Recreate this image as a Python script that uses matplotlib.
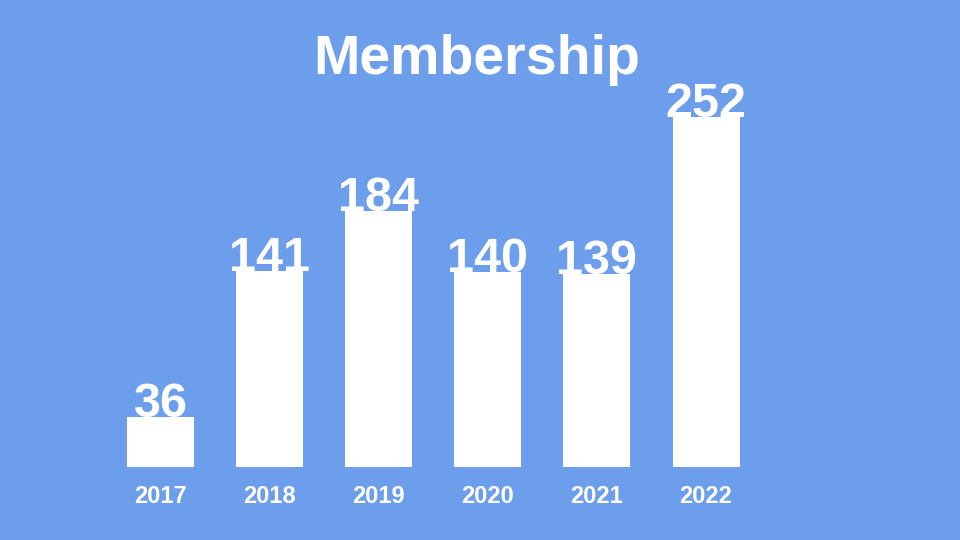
import matplotlib
matplotlib.use("Agg")
import matplotlib.pyplot as plt

years = ["2017", "2018", "2019", "2020", "2021", "2022"]
members = [36, 141, 184, 140, 139, 252]
title = "Membership"

BG = "#6d9eeb"
fig = plt.figure(figsize=(9.6, 5.4), dpi=100, facecolor=BG)
ax = fig.add_axes([0, 0.1357, 1, 0.8643])
ax.set_facecolor(BG)
ax.set_xlim(-1.471, 7.328)
ax.set_ylim(0, 336)
ax.axis("off")

xs = list(range(len(years)))
ax.bar(xs, members, width=0.614, color="white", edgecolor="none")

for x, v, yr in zip(xs, members, years):
    ax.text(x, v, str(v), ha="center", va="baseline", color="white",
            fontsize=35, fontweight="bold", family="Liberation Sans")
    ax.annotate(yr, xy=(x, 0), xytext=(0, -30), textcoords="offset pixels",
                ha="center", va="center", color="white", fontsize=17,
                fontweight="bold", family="Liberation Sans",
                annotation_clip=False)

fig.text(0.497, 1 - 74 / 540, title, ha="center", va="baseline", color="white",
         fontsize=40, fontweight="bold", family="Liberation Sans")

fig.savefig("out.png", dpi=100, facecolor=BG)
